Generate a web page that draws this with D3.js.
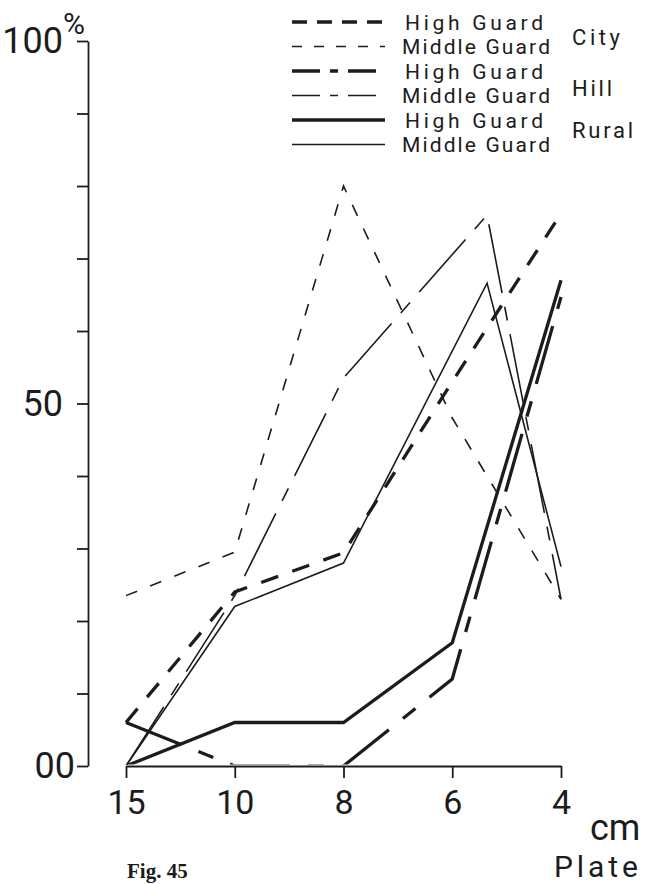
<!DOCTYPE html>
<html>
<head>
<meta charset="utf-8">
<script src="https://cdn.jsdelivr.net/npm/d3@7"></script>
<style>
  html, body { margin: 0; padding: 0; background: #fff; }
  svg { display: block; }
  text { font-family: Roboto, "DejaVu Sans", sans-serif; fill: #1c1c1c; }
</style>
</head>
<body>
<script>
// Plate size categories along the x axis (cm), drawn at evenly spaced positions
const plateLabels = ["15", "10", "8", "6", "4"];
const platePos = [0, 1, 2, 3, 4];
// Middle guard curves for Hill and Rural turn over between the 6 and 4 cm plates
const middlePeakPos = [0, 1, 2, 3.32, 4];

// Percentages per series
const cityHigh = [6, 24, 29.4, 53, 76.2];
const cityMiddle = [23.5, 29.5, 80, 48, 23];
const hillHigh = [6, 0, 0, 12, 64.7];
const hillMiddle = [0, 23.5, 53.5, 76, 23];
const ruralHigh = [0, 6, 6, 17, 67];
const ruralMiddle = [0, 22, 28, 66.6, 27.5];

const yTicks = [0, 10, 20, 30, 40, 50, 60, 70, 80, 90, 100];
const yTickText = { 0: "00", 50: "50", 100: "100" };

const groups = ["City", "Hill", "Rural"];
const guards = ["High Guard", "Middle Guard"];

const series = [
  { name: "City High Guard",    pos: platePos,      vals: cityHigh,    w: 3.3, dash: "18 15",          legDash: "15 10" },
  { name: "City Middle Guard",  pos: platePos,      vals: cityMiddle,  w: 1.6, dash: "12 14",          legDash: "10 12" },
  { name: "Hill High Guard",    pos: platePos,      vals: hillHigh,    w: 3.3, dash: "60 18 16 18",    legDash: "28 10 8 10" },
  { name: "Hill Middle Guard",  pos: middlePeakPos, vals: hillMiddle,  w: 1.6, dash: "70 14 14 14",    legDash: "28 10 8 10" },
  { name: "Rural High Guard",   pos: platePos,      vals: ruralHigh,   w: 3.3, dash: null,             legDash: null },
  { name: "Rural Middle Guard", pos: middlePeakPos, vals: ruralMiddle, w: 1.6, dash: null,             legDash: null }
];

const W = 651, H = 884;
const ink = "#1c1c1c";

const svg = d3.select("body").append("svg")
  .attr("width", W).attr("height", H)
  .attr("viewBox", `0 0 ${W} ${H}`);

svg.append("rect").attr("width", W).attr("height", H).attr("fill", "#fff");

const x = d3.scaleLinear().domain([0, 4]).range([126, 561]);
const y = d3.scaleLinear().domain([0, 100]).range([766, 41]);

// Curves stay above the baseline; stretches at 0 % merge into the axis
svg.append("clipPath").attr("id", "plot-area")
  .append("rect")
  .attr("x", 0).attr("y", 0)
  .attr("width", W).attr("height", y(0) - 1.6);

// Curves
const line = d3.line()
  .x(d => x(d[0]))
  .y(d => y(d[1]));

const curves = svg.append("g").attr("clip-path", "url(#plot-area)");
series.forEach(s => {
  const pts = s.pos.map((p, i) => [p, s.vals[i]]);
  curves.append("path")
    .datum(pts)
    .attr("d", line)
    .attr("fill", "none")
    .attr("stroke", ink)
    .attr("stroke-width", s.w)
    .attr("stroke-linejoin", "miter")
    .attr("stroke-dasharray", s.dash);
});

// Y axis
const yAxis = svg.append("g")
  .attr("transform", "translate(88,0)")
  .call(d3.axisLeft(y)
    .tickValues(yTicks)
    .tickSize(11)
    .tickSizeOuter(0)
    .tickPadding(14)
    .tickFormat(d => yTickText[d] || ""));
yAxis.selectAll("path, line").attr("stroke", ink).attr("stroke-width", 1.8);
yAxis.selectAll(".tick text")
  .attr("font-size", 36)
  .attr("fill", ink)
  .style("font-family", "Roboto, sans-serif");
// the zero label sits tight against its tick
yAxis.selectAll(".tick").each(function (d) {
  if (+d === 0) d3.select(this).select("text").attr("transform", "translate(12,0)");
});

svg.append("text")
  .attr("x", 63).attr("y", 34)
  .attr("font-size", 30)
  .text("%");

// X axis
const xAxis = svg.append("g")
  .attr("transform", `translate(0,${y(0)})`)
  .call(d3.axisBottom(x)
    .tickValues(platePos)
    .tickSize(12)
    .tickSizeOuter(0)
    .tickPadding(12)
    .tickFormat(i => plateLabels[i]));
xAxis.selectAll("path, line").attr("stroke", ink).attr("stroke-width", 1.8);
xAxis.selectAll("text")
  .attr("font-size", 34)
  .attr("fill", ink)
  .style("font-family", "Roboto, sans-serif");

svg.append("text").attr("x", 590).attr("y", 840).attr("font-size", 36).text("cm");
svg.append("text").attr("x", 554).attr("y", 877).attr("font-size", 30)
  .attr("textLength", 84).attr("lengthAdjust", "spacing").text("Plate");

// Legend
const leg = svg.append("g");
series.forEach((s, i) => {
  const ry = 22 + i * 24.5;
  leg.append("line")
    .attr("x1", 292).attr("x2", 385)
    .attr("y1", ry).attr("y2", ry)
    .attr("stroke", ink)
    .attr("stroke-width", s.w)
    .attr("stroke-dasharray", s.legDash);
  const label = guards[i % 2];
  leg.append("text")
    .attr("x", i % 2 === 0 ? 405 : 402)
    .attr("y", ry + 7.5)
    .attr("font-size", 21)
    .attr("textLength", i % 2 === 0 ? 138 : 148)
    .attr("lengthAdjust", "spacing")
    .text(label);
});
const groupY = [45, 96, 138];
const groupW = [48, 40, 61];
groups.forEach((g, i) => {
  leg.append("text")
    .attr("x", 572)
    .attr("y", groupY[i])
    .attr("font-size", 22)
    .attr("textLength", groupW[i])
    .attr("lengthAdjust", "spacing")
    .text(g);
});

// Figure caption along the bottom edge
svg.append("text")
  .attr("x", 127).attr("y", 878)
  .attr("font-size", 21)
  .attr("font-weight", "bold")
  .style("font-family", "'Liberation Serif', 'DejaVu Serif', serif")
  .text("Fig. 45");
</script>
</body>
</html>
